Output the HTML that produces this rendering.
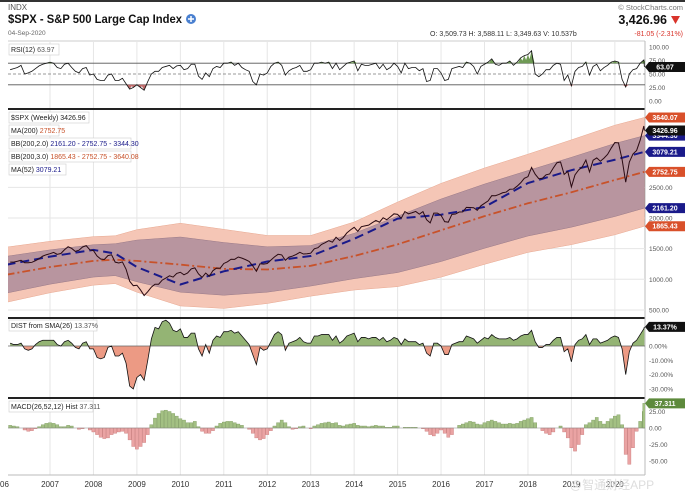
<!DOCTYPE html>
<html><head><meta charset="utf-8">
<style>
body{margin:0;background:#fff;font-family:"Liberation Sans","Noto Sans CJK SC",sans-serif;}
#wrap{position:relative;width:685px;height:492px;overflow:hidden;background:#fff}
svg text{font-family:"Liberation Sans","Noto Sans CJK SC",sans-serif}
</style></head>
<body>
<div id="wrap">
<svg id="chart" width="685" height="492" xmlns="http://www.w3.org/2000/svg"></svg>
</div>
<script>
const priceStart = 2006;
const price = [1280,1281,1295,1311,1270,1270,1277,1304,1336,1378,1401,1418,
1438,1407,1421,1482,1531,1503,1455,1474,1527,1549,1481,1468,
1379,1331,1323,1386,1400,1280,1267,1283,1166,969,896,903,
826,735,798,873,919,919,987,1021,1057,1036,1096,1115,
1074,1104,1169,1187,1089,1031,1102,1049,1141,1183,1181,1258,
1286,1327,1326,1364,1345,1321,1292,1219,1131,1253,1247,1258,
1312,1366,1408,1398,1310,1362,1379,1406,1441,1412,1416,1426,
1498,1515,1569,1598,1631,1606,1686,1633,1682,1757,1806,1848,
1783,1859,1872,1884,1924,1960,1931,2003,1972,2018,2068,2059,
1995,2105,2068,2086,2107,2063,2104,1972,1920,2079,2080,2044,
1940,1932,2060,2065,2097,2099,2174,2171,2168,2126,2199,2239,
2279,2364,2363,2384,2412,2423,2470,2472,2519,2575,2648,2674,
2824,2714,2641,2648,2705,2718,2816,2902,2914,2711,2760,2507,
2704,2784,2834,2946,2752,2942,2980,2926,2977,3038,3141,3231,
3226,2954,2585,2912,3044,3100,3271,3500,3426.96];
const rsi = [58,60,62,66,50,52,55,60,65,68,70,72,
70,62,60,68,70,62,55,52,60,62,48,50,
40,38,38,48,50,38,38,42,32,22,25,30,
25,20,36,50,55,55,62,64,66,60,65,66,
58,60,68,68,46,40,52,45,60,64,62,70,
70,72,66,70,62,58,55,36,30,50,48,52,
64,70,72,66,48,56,60,62,66,55,55,58,
70,70,72,70,72,60,70,58,64,70,72,74,
56,68,66,66,68,70,60,68,58,62,70,64,
52,70,60,62,62,56,60,36,38,60,60,52,
38,40,60,62,64,62,72,70,64,50,64,68,
72,78,68,66,70,70,74,66,72,80,84,86,
93,50,45,50,58,58,66,70,68,38,48,28,
55,62,64,72,48,64,68,56,62,66,72,74,
72,40,26,50,58,60,70,76,63.07];
const dist = [2,1,1,2,-2,-3,-2,1,3,4,4,4,
4,1,0,3,4,2,-1,-2,2,3,-2,-2,
-8,-9,-8,-1,0,-7,-7,-5,-12,-28,-30,-22,
-20,-24,-10,5,13,12,17,18,16,11,10,12,
6,6,9,9,-2,-7,1,-5,4,7,6,10,
10,11,9,10,7,4,1,-6,-13,-1,-3,-2,
3,8,10,8,-3,2,3,4,6,3,2,2,
7,7,8,8,8,4,7,2,4,7,8,9,
3,6,6,5,6,6,4,6,3,4,6,5,
1,5,3,3,3,1,2,-5,-7,2,2,0,
-6,-6,1,2,3,3,7,6,5,2,4,6,
5,8,6,5,5,5,6,4,5,7,8,8,
11,3,-1,-1,1,1,4,6,6,-4,-2,-11,
1,4,5,8,1,5,5,2,3,4,6,7,
6,-2,-20,-4,2,4,8,12,13.37];
const macdHist = [4,3,2,0,-3,-5,-4,-1,2,5,7,8,
7,5,2,2,4,3,0,-2,-1,0,-3,-6,
-10,-14,-16,-15,-10,-8,-6,-5,-8,-18,-28,-32,
-28,-22,-10,5,15,22,26,27,25,22,18,14,
12,8,8,10,2,-5,-8,-8,-4,3,7,9,
10,10,8,6,4,0,-2,-8,-15,-18,-16,-10,
-4,3,8,12,8,2,-2,-1,2,3,0,-1,
3,5,7,8,9,7,8,4,3,5,6,7,
4,3,3,2,3,4,3,3,1,1,3,3,
0,1,1,1,1,0,-1,-5,-10,-12,-8,-3,
-8,-14,-10,0,4,6,8,10,9,6,5,8,
10,12,10,8,6,6,7,6,7,10,12,14,
16,8,0,-4,-8,-10,-6,0,3,-6,-15,-30,
-35,-25,-10,5,8,12,16,10,6,10,14,18,
20,5,-40,-55,-30,-5,10,25,37.311];
const bandDates = [2006.0,2007.0,2008.0,2008.5,2009.0,2010.0,2011.0,2012.0,2013.0,2014.0,2015.0,2016.0,2017.0,2018.0,2019.0,2020.0,2020.68];
const ma200 = [1075,1200,1300,1320,1300,1240,1170,1160,1220,1380,1570,1800,2030,2240,2420,2620,2752.75];
const sd200 = [150,140,132,130,170,225,215,185,165,185,230,255,262,267,285,298,295.775];
const ma52 = [1238,1370,1480,1420,1200,915,1130,1290,1380,1660,1990,2054,2180,2570,2780,2950,3079.21];
const years = [2007,2008,2009,2010,2011,2012,2013,2014,2015,2016,2017,2018,2019,2020];
const priceTicks = [500,1000,1500,2000,2500];
const rsiTicks = [0,25,50,75,100];
const distTicks = [0,-10,-20,-30];
const macdTicks = [25,0,-25,-50];

const NS="http://www.w3.org/2000/svg";
const svg=document.getElementById('chart');
const L=8,R=645;
function xs(t){return 50+(t-2007)*43.45;}
function tOf(i){return Math.min(priceStart+(i+1)/12,2020.68);}
function yP(v){return 340.6-v*0.0613;}
function yR(v){return 101-v*0.54;}
function yD(v){return 346-v*1.43;}
function yM(v){return 428-v*0.66;}
function mk(tag,attrs,parent){const e=document.createElementNS(NS,tag);for(const k in attrs)e.setAttribute(k,attrs[k]);(parent||svg).appendChild(e);return e;}
function txt(x,y,s,attrs,parent){const e=mk('text',Object.assign({x:x,y:y,'font-size':8,fill:'#444'},attrs||{}),parent);e.textContent=s;return e;}

const defs=mk('defs',{});
const cp=mk('clipPath',{id:'plotclip'},defs);mk('rect',{x:L,y:0,width:R-L,height:492},cp);
const cpPos=mk('clipPath',{id:'posclip'},defs);mk('rect',{x:L,y:318,width:R-L,height:yD(0)-318},cpPos);
const cpNeg=mk('clipPath',{id:'negclip'},defs);mk('rect',{x:L,y:yD(0),width:R-L,height:397-yD(0)},cpNeg);

mk('rect',{x:0,y:0,width:685,height:2,fill:'#333'});
let t;
t=txt(8,10,'INDX',{'font-size':8,fill:'#555'});
t=txt(8,23,'$SPX - S&P 500 Large Cap Index',{'font-size':12,'font-weight':'bold',fill:'#111',textLength:174,lengthAdjust:'spacingAndGlyphs'});
let plus=mk('g',{});
mk('circle',{cx:191,cy:19,r:5,fill:'#4a80d0'},plus);mk('path',{d:'M188 19h6M191 16v6',stroke:'#fff','stroke-width':1.5},plus);
t=txt(8,35,'04-Sep-2020',{'font-size':6.5,fill:'#666'});
t=txt(683,10,'© StockCharts.com',{'font-size':7.5,fill:'#777','text-anchor':'end'});
t=txt(667,24,'3,426.96',{'font-size':12.5,'font-weight':'bold',fill:'#111','text-anchor':'end'});
t=mk('path',{d:'M671 16h9l-4.5 8z',fill:'#d9342b'});
t=txt(430,36,'O: 3,509.73   H: 3,588.11   L: 3,349.63   V: 10.537b',{'font-size':7,fill:'#333','xml:space':'preserve'});
t=txt(683,36,'-81.05 (-2.31%)',{'font-size':7,fill:'#d9342b','text-anchor':'end'});

years.forEach(y=>{const g=mk('line',{x1:xs(y),x2:xs(y),y1:42,y2:475,stroke:'#e6e6e6','stroke-width':1});});

function axisLabel(y,s){const e=txt(649,y+2.5,s,{'font-size':6.5,fill:'#555'});}
function hgrid(y){const e=mk('line',{x1:L,x2:R,y1:y,y2:y,stroke:'#e6e6e6'});}
function badge(y,s,col,name){const g=mk('g',{});
 mk('path',{d:`M${R} ${y} l4 -5 h36 a2 2 0 0 1 2 2 v6 a2 2 0 0 1 -2 2 h-36 z`,fill:col},g);
 txt(665,y+2.5,s,{'font-size':7,fill:'#fff','text-anchor':'middle','font-weight':'bold'},g);}
function legendBox(x,y,w,parts,name){const g=mk('g',{});
 mk('rect',{x:x,y:y,width:w,height:11,fill:'#fff',stroke:'#ccc','stroke-width':0.6},g);
 const e=mk('text',{x:x+2,y:y+8,'font-size':7},g);
 parts.forEach(p=>{const s=document.createElementNS(NS,'tspan');s.setAttribute('fill',p[1]);s.textContent=p[0];e.appendChild(s);});}

[[41,108],[109,318],[318,397],[398,475]].forEach(p=>{
 const b=mk('line',{x1:L,x2:R,y1:p[0],y2:p[0],stroke:p[0]==41?'#ccc':'#222','stroke-width':p[0]==41?1:2});
});
mk('line',{x1:R,x2:R,y1:41,y2:475,stroke:'#bbb'});
mk('line',{x1:L,x2:R,y1:475,y2:475,stroke:'#bbb'});

// RSI
rsiTicks.forEach(v=>axisLabel(yR(v),v.toFixed(2)));
let rl=mk('line',{x1:L,x2:R,y1:yR(70),y2:yR(70),stroke:'#555','stroke-width':0.8});
rl=mk('line',{x1:L,x2:R,y1:yR(30),y2:yR(30),stroke:'#555','stroke-width':0.8});
rl=mk('line',{x1:L,x2:R,y1:yR(50),y2:yR(50),stroke:'#777','stroke-width':0.7,'stroke-dasharray':'3,2'});
const rsiG=mk('g',{'clip-path':'url(#plotclip)'});
let rp=rsi.map((v,i)=>[xs(tOf(i)),yR(v)]);
let oPath='';rsi.forEach((v,i)=>{if(v>70){const x=xs(tOf(i));oPath+=`M${x-3} ${yR(70)}L${x} ${yR(v)}L${x+3} ${yR(70)}Z`;}});
let ofill=mk('path',{d:oPath,fill:'#6f9a55'},rsiG);
let uPath='';rsi.forEach((v,i)=>{if(v<30){const x=xs(tOf(i));uPath+=`M${x-3} ${yR(30)}L${x} ${yR(v)}L${x+3} ${yR(30)}Z`;}});
let ufill=mk('path',{d:uPath,fill:'#c06a6a'},rsiG);
let rline=mk('polyline',{points:rp.map(p=>p.join(',')).join(' '),fill:'none',stroke:'#111','stroke-width':0.8},rsiG);

legendBox(9,44,50,[['RSI(12) ','#222'],['63.97','#555']],'rsi-legend');
badge(yR(rsi[rsi.length-1]),rsi[rsi.length-1].toFixed(2),'#111','rsi-value-badge');

// Price
priceTicks.forEach(v=>{hgrid(yP(v));axisLabel(yP(v),v.toFixed(2));});
const pg=mk('g',{'clip-path':'url(#plotclip)'});
function bandPath(k1,k2){let up=bandDates.map((d,i)=>`${xs(d)},${yP(ma200[i]+k1*sd200[i])}`);let dn=bandDates.map((d,i)=>`${xs(d)},${yP(ma200[i]+k2*sd200[i])}`).reverse();return 'M'+up.join('L')+'L'+dn.join('L')+'Z';}
let b3=mk('path',{d:bandPath(3,-3),fill:'#f5c6b6',stroke:'#e8a890','stroke-width':0.5},pg);
let b2=mk('path',{d:bandPath(2,-2),fill:'#b8959f',stroke:'#9a7a88','stroke-width':0.5},pg);
let m200=mk('polyline',{points:bandDates.map((d,i)=>xs(d)+','+yP(ma200[i])).join(' '),fill:'none',stroke:'#c8522a','stroke-width':1.8,'stroke-dasharray':'8,3,2,3'},pg);

let m52=mk('polyline',{points:bandDates.map((d,i)=>xs(d)+','+yP(ma52[i])).join(' '),fill:'none',stroke:'#1a1a8a','stroke-width':2,'stroke-dasharray':'9,5'},pg);

let pl=mk('polyline',{points:price.map((v,i)=>xs(tOf(i))+','+yP(v)).join(' '),fill:'none',stroke:'#2a0a12','stroke-width':1},pg);

legendBox(9,112,80,[['$SPX (Weekly) ','#222'],['3426.96','#222']],'price-legend');
legendBox(9,125,50,[['MA(200) ','#222'],['2752.75','#c8522a']],'ma200-legend');
legendBox(9,138,122,[['BB(200,2.0) ','#222'],['2161.20 - 2752.75 - 3344.30','#1a1a8a']],'bb2-legend');
legendBox(9,151,122,[['BB(200,3.0) ','#222'],['1865.43 - 2752.75 - 3640.08','#c8522a']],'bb3-legend');
legendBox(9,164,57,[['MA(52) ','#222'],['3079.21','#1a1a8a']],'ma52-legend');
const li=bandDates.length-1;
badge(yP(ma200[li]+3*sd200[li]),(ma200[li]+3*sd200[li]).toFixed(2),'#d9502a','bb3-upper-badge');
badge(yP(ma200[li]+2*sd200[li]),(ma200[li]+2*sd200[li]).toFixed(2),'#1a1a8a','bb2-upper-badge');
badge(yP(ma52[li]),ma52[li].toFixed(2),'#1a1a8a','ma52-badge');
badge(yP(ma200[li]),ma200[li].toFixed(2),'#d9502a','ma200-badge');
badge(yP(ma200[li]-2*sd200[li]),(ma200[li]-2*sd200[li]).toFixed(2),'#1a1a8a','bb2-lower-badge');
badge(yP(ma200[li]-3*sd200[li]),(ma200[li]-3*sd200[li]).toFixed(2),'#d9502a','bb3-lower-badge');
badge(yP(price[price.length-1]),price[price.length-1].toFixed(2),'#111','price-badge');

// DIST
distTicks.forEach(v=>axisLabel(yD(v),v.toFixed(2)+'%'));
let dpts=dist.map((v,i)=>[xs(tOf(i)),yD(v)]);
let area='M'+xs(tOf(0))+','+yD(0)+'L'+dpts.map(p=>p.join(',')).join('L')+'L'+xs(tOf(dist.length-1))+','+yD(0)+'Z';
let dp=mk('path',{d:area,fill:'#94b474','clip-path':'url(#posclip)'});
let dn=mk('path',{d:area,fill:'#ec9a84','clip-path':'url(#negclip)'});
let dz=mk('line',{x1:L,x2:R,y1:yD(0),y2:yD(0),stroke:'#666','stroke-width':0.8});
let dl=mk('polyline',{points:dpts.map(p=>p.join(',')).join(' '),fill:'none',stroke:'#111','stroke-width':0.8,'clip-path':'url(#plotclip)'});

legendBox(9,320,88,[['DIST from SMA(26) ','#222'],['13.37%','#555']],'dist-legend');
badge(yD(dist[dist.length-1]),dist[dist.length-1].toFixed(2)+'%','#111','dist-value-badge');

// MACD
macdTicks.forEach(v=>axisLabel(yM(v),v.toFixed(2)));
const mg=mk('g',{'clip-path':'url(#plotclip)'});
macdHist.forEach((v,i)=>{const x=xs(tOf(i));const b=mk('rect',{x:x-1.6,width:3.2,y:Math.min(yM(v),yM(0)),height:Math.abs(yM(v)-yM(0)),fill:v>=0?'#a3c083':'#eaa3a3',stroke:v>=0?'#7c9a5e':'#c87878','stroke-width':0.4},mg);
 });
let mz=mk('line',{x1:L,x2:R,y1:yM(0),y2:yM(0),stroke:'#888','stroke-width':0.6});
legendBox(9,401,84,[['MACD(26,52,12) Hist ','#222'],['37.311','#555']],'macd-legend');
badge(yM(macdHist[macdHist.length-1]),macdHist[macdHist.length-1].toFixed(3),'#5d8a3c','macd-value-badge');

let x06=txt(0,487,'06',{'font-size':8,fill:'#333'});
years.forEach(y=>{const e=txt(xs(y),487,String(y),{'font-size':8,fill:'#333','text-anchor':'middle'});});
let wm=txt(612,489,'@智通财经APP',{'font-size':12,fill:'#ddd','text-anchor':'middle'});
</script>
</body></html>
